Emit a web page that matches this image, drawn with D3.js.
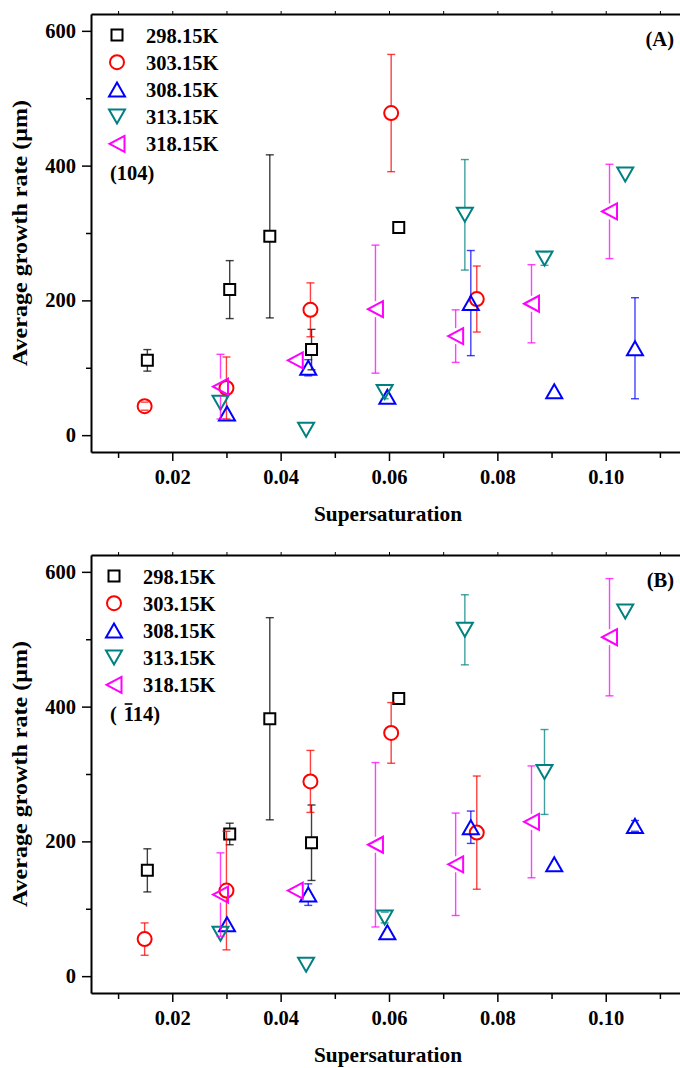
<!DOCTYPE html>
<html>
<head>
<meta charset="utf-8">
<script src="https://cdn.jsdelivr.net/npm/d3@7"></script>
<style>
  html, body { margin: 0; padding: 0; background: #fff; }
  svg { display: block; }
  text { font-family: "Liberation Serif", "Times New Roman", serif; font-weight: bold; fill: #000; }
</style>
</head>
<body>
<svg id="chart" width="680" height="1068"></svg>
<script>
// temperatures (series) and their styles
const temps = ['298.15K', '303.15K', '308.15K', '313.15K', '318.15K']
const colors = ['#000000', '#ff0000', '#0000ff', '#008080', '#ff00ff']
const shapes = ['square', 'circle', 'up', 'down', 'left']

// supersaturation per temperature (same for both faces)
const sup298 = [0.0154, 0.0306, 0.0380, 0.0457, 0.0618]
const sup303 = [0.0149, 0.0300, 0.0455, 0.0604, 0.0762]
const sup308 = [0.0301, 0.0451, 0.0597, 0.0751, 0.0905, 0.1054]
const sup313 = [0.0289, 0.0447, 0.0592, 0.0740, 0.0887, 0.1036]
const sup318 = [0.0289, 0.0427, 0.0575, 0.0723, 0.0863, 0.1007]

// (A) face (104): average growth rate and error
const rateA298 = [111, 216, 295, 127, 308]
const errA298 = [16, 43, 121, 30, 0]
const rateA303 = [43, 70, 186, 478, 202]
const errA303 = [6, 46, 40, 87, 49]
const rateA308 = [32, 100, 57, 196, 65, 129]
const errA308 = [0, 12, 0, 78, 0, 75]
const rateA313 = [48, 8, 64, 327, 262, 387]
const errA313 = [0, 0, 10, 82, 10, 0]
const rateA318 = [72, 111, 187, 147, 195, 332]
const errA318 = [48, 0, 95, 39, 58, 70]

// (B) face (-114)
const rateB298 = [157, 211, 382, 198, 412]
const errB298 = [32, 16, 150, 56, 0]
const rateB303 = [55, 127, 289, 361, 213]
const errB303 = [24, 88, 46, 45, 84]
const rateB308 = [77, 121, 65, 221, 166, 223]
const errB308 = [0, 16, 0, 24, 0, 8]
const rateB313 = [63, 17, 87, 514, 303, 541]
const errB313 = [0, 0, 8, 52, 63, 0]
const rateB318 = [121, 127, 195, 166, 229, 503]
const errB318 = [62, 0, 122, 76, 83, 87]

// axis ticks
const xTicks = [0.02, 0.04, 0.06, 0.08, 0.10]
const xMinor = [0.01, 0.03, 0.05, 0.07, 0.09, 0.11]
const yTicks = [0, 200, 400, 600]
const yMinor = [100, 300, 500]

const sups = [sup298, sup303, sup308, sup313, sup318]
const seriesA = [[rateA298, errA298], [rateA303, errA303], [rateA308, errA308], [rateA313, errA313], [rateA318, errA318]]
const seriesB = [[rateB298, errB298], [rateB303, errB303], [rateB308, errB308], [rateB313, errB313], [rateB318, errB318]]

const svg = d3.select('#chart')
const left = 91
const right = 687
const font = '"Liberation Serif", "Times New Roman", serif'

// marker path + half height (used to leave a gap in the error bar)
function markerPath (shape) {
  switch (shape) {
    case 'square': return 'M-5.5,-5.5H5.5V5.5H-5.5Z'
    case 'circle': return 'M7,0A7,7 0 1,1 -7,0A7,7 0 1,1 7,0Z'
    case 'up': return 'M0,-7L8,7L-8,7Z'
    case 'down': return 'M-8,-7L8,-7L0,7Z'
    case 'left': return 'M-7.5,0L7.5,-8L7.5,8Z'
  }
}
const markerGap = { square: 5.5, circle: 7, up: 7, down: 7, left: 8 }

function drawPanel (cfg) {
  const { top, bottom, series, tag, legendX, legendY, plane } = cfg
  const g = svg.append('g')
  const x = d3.scaleLinear().domain([0.005, 0.115]).range([left, right])
  const y = d3.scaleLinear().domain([-25, 625]).range([bottom, top])

  // axes
  const axisStyle = sel => {
    sel.attr('font-family', font)
    sel.select('.domain').attr('stroke-width', 2)
    sel.selectAll('.tick line').attr('stroke-width', 1.5)
    sel.selectAll('text').attr('font-size', 20.5)
  }
  g.append('g').attr('transform', `translate(0,${bottom})`)
    .call(d3.axisBottom(x).tickValues(xTicks).tickSize(9).tickSizeOuter(0).tickPadding(8).tickFormat(d3.format('.2f')))
    .call(axisStyle)
  g.append('g').attr('transform', `translate(0,${bottom})`)
    .call(d3.axisBottom(x).tickValues(xMinor).tickSize(6).tickSizeOuter(0).tickFormat(''))
    .call(s => s.select('.domain').remove())
    .call(s => s.selectAll('.tick line').attr('stroke-width', 1.5))
  g.append('g').attr('transform', `translate(${left},0)`)
    .call(d3.axisLeft(y).tickValues(yTicks).tickSize(9).tickSizeOuter(0).tickPadding(6))
    .call(axisStyle)
  g.append('g').attr('transform', `translate(${left},0)`)
    .call(d3.axisLeft(y).tickValues(yMinor).tickSize(5).tickSizeOuter(0).tickFormat(''))
    .call(s => s.select('.domain').remove())
    .call(s => s.selectAll('.tick line').attr('stroke-width', 1.5))
  g.append('g').attr('transform', `translate(0,${top})`)
    .call(d3.axisTop(x).tickValues(xTicks.concat(xMinor)).tickSize(3).tickSizeOuter(0).tickFormat(''))
    .call(s => s.select('.domain').attr('stroke-width', 2))
  g.append('g').attr('transform', `translate(${right},0)`)
    .call(d3.axisRight(y).tickValues(yTicks.concat(yMinor)).tickSize(3).tickSizeOuter(0).tickFormat(''))
    .call(s => s.select('.domain').attr('stroke-width', 2))

  // axis titles
  g.append('text')
    .attr('x', (left + right) / 2 - 1)
    .attr('y', bottom + 69)
    .attr('text-anchor', 'middle')
    .attr('font-size', 21)
    .attr('textLength', 148)
    .attr('lengthAdjust', 'spacingAndGlyphs')
    .text('Supersaturation')
  g.append('text')
    .attr('transform', `translate(27,${(top + bottom) / 2}) rotate(-90)`)
    .attr('text-anchor', 'middle')
    .attr('font-size', 21)
    .attr('textLength', 266)
    .attr('lengthAdjust', 'spacingAndGlyphs')
    .text('Average growth rate (μm)')

  // error bars + markers
  series.forEach(([rates, errs], k) => {
    const color = colors[k]
    const shape = shapes[k]
    const gap = markerGap[shape]
    const pts = rates.map((v, i) => ({ s: sups[k][i], v, e: errs[i] }))
    const eg = g.append('g').attr('stroke', color).attr('stroke-width', 1.4).attr('stroke-opacity', 0.75)
    pts.filter(d => d.e > 0).forEach(d => {
      const cx = x(d.s)
      const cy = y(d.v)
      const yt = y(d.v + d.e)
      const yb = y(d.v - d.e)
      if (yt < cy - gap) eg.append('line').attr('x1', cx).attr('x2', cx).attr('y1', yt).attr('y2', cy - gap)
      if (yb > cy + gap) eg.append('line').attr('x1', cx).attr('x2', cx).attr('y1', cy + gap).attr('y2', yb)
      eg.append('line').attr('x1', cx - 4).attr('x2', cx + 4).attr('y1', yt).attr('y2', yt)
      eg.append('line').attr('x1', cx - 4).attr('x2', cx + 4).attr('y1', yb).attr('y2', yb)
    })
    g.append('g').selectAll('path').data(pts).join('path')
      .attr('d', markerPath(shape))
      .attr('transform', d => `translate(${x(d.s)},${y(d.v)})`)
      .attr('fill', 'none')
      .attr('stroke', color)
      .attr('stroke-width', 2)
  })

  // legend
  temps.forEach((t, k) => {
    const ly = legendY + k * 27.2
    g.append('path')
      .attr('d', markerPath(shapes[k]))
      .attr('transform', `translate(${legendX},${ly})`)
      .attr('fill', 'none')
      .attr('stroke', colors[k])
      .attr('stroke-width', 2)
    g.append('text')
      .attr('x', legendX + 29)
      .attr('y', ly + 7.5)
      .attr('font-size', 20.5)
      .text(t)
  })

  // panel tag
  g.append('text')
    .attr('x', 674)
    .attr('y', top + 32)
    .attr('text-anchor', 'end')
    .attr('font-size', 20.5)
    .text(tag)

  // crystal face label, with an overbar on one digit if needed
  const pl = g.append('text')
    .attr('x', 110)
    .attr('y', legendY + 5 * 27.2 + 9)
    .attr('font-size', 20.5)
    .attr('xml:space', 'preserve')
    .text(plane.text)
  if (plane.bar != null) {
    const box = pl.node().getExtentOfChar(plane.bar)
    g.append('line')
      .attr('x1', box.x + 1).attr('x2', box.x + box.width - 1)
      .attr('y1', box.y + 1).attr('y2', box.y + 1)
      .attr('stroke', '#000').attr('stroke-width', 1.6)
  }
}

drawPanel({ top: 14, bottom: 452, series: seriesA, tag: '(A)', legendX: 117, legendY: 35, plane: { text: '(104)', bar: null } })
drawPanel({ top: 555, bottom: 993, series: seriesB, tag: '(B)', legendX: 114, legendY: 576, plane: { text: '( \u200a114)', bar: 3 } })
</script>
</body>
</html>
